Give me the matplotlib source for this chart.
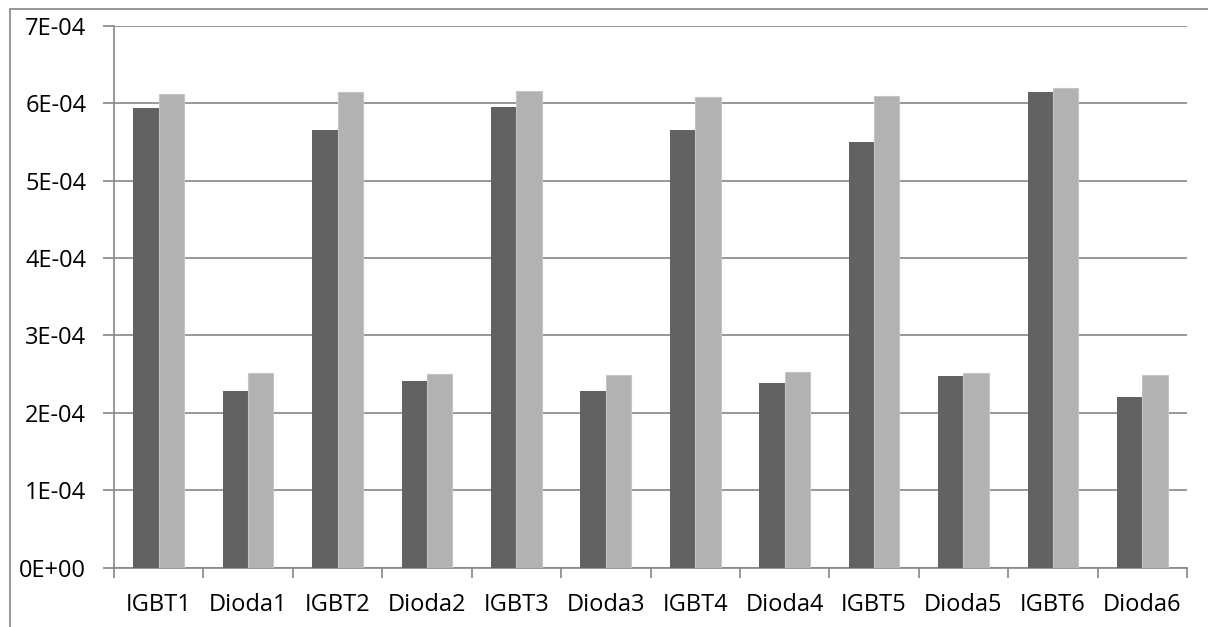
import matplotlib.pyplot as plt
import numpy as np
from matplotlib.patches import Rectangle
from matplotlib.ticker import FuncFormatter, MultipleLocator

plt.rcParams["font.family"] = ["Open Sans", "DejaVu Sans"]

components = ["IGBT1", "Dioda1", "IGBT2", "Dioda2", "IGBT3", "Dioda3",
              "IGBT4", "Dioda4", "IGBT5", "Dioda5", "IGBT6", "Dioda6"]
series_a = [5.94e-4, 2.28e-4, 5.65e-4, 2.41e-4, 5.95e-4, 2.28e-4,
            5.65e-4, 2.39e-4, 5.50e-4, 2.47e-4, 6.15e-4, 2.20e-4]
series_b = [6.12e-4, 2.51e-4, 6.15e-4, 2.50e-4, 6.16e-4, 2.49e-4,
            6.08e-4, 2.53e-4, 6.09e-4, 2.51e-4, 6.20e-4, 2.49e-4]

GRID = "#868686"

fig = plt.figure(figsize=(12.08, 6.27), dpi=100)
ax = fig.add_axes([0.0944, 0.0946, 0.8882, 0.8644])

x = np.arange(len(components))
w = 0.283
ax.bar(x - w / 2, series_a, width=w, color="#626262", zorder=3)
ax.bar(x + w / 2, series_b, width=w, color="#b2b2b2", edgecolor="#c4c4c4",
       linewidth=0.8, zorder=3)

ax.set_xlim(-0.5, len(components) - 0.5)
ax.set_ylim(0, 7e-4)
ax.yaxis.set_major_locator(MultipleLocator(1e-4))
ax.yaxis.set_major_formatter(FuncFormatter(lambda v, _: f"{v:.0E}"))
ax.yaxis.grid(True, color=GRID, linewidth=1.2, zorder=0)

# category labels centred, tick marks on the boundaries
ax.set_xticks(x)
ax.set_xticklabels(components)
ax.set_xticks(np.arange(-0.5, len(components)), minor=True)
ax.tick_params(axis="x", which="major", length=0, pad=18, labelsize=17)
ax.tick_params(axis="x", which="minor", length=7, width=1.2, color=GRID)
ax.tick_params(axis="y", length=8, width=1.2, color=GRID, pad=12, labelsize=17)

for side in ["top", "right"]:
    ax.spines[side].set_visible(False)
for side in ["left", "bottom"]:
    ax.spines[side].set_color(GRID)
    ax.spines[side].set_linewidth(1.2)

# outer frame of the chart area
fig.patches.append(Rectangle((10 / 1208, -0.1), 1.2, 0.9852 + 0.1,
                             transform=fig.transFigure, fill=False,
                             edgecolor=GRID, linewidth=1.2))

fig.savefig("out.png", dpi=100)
